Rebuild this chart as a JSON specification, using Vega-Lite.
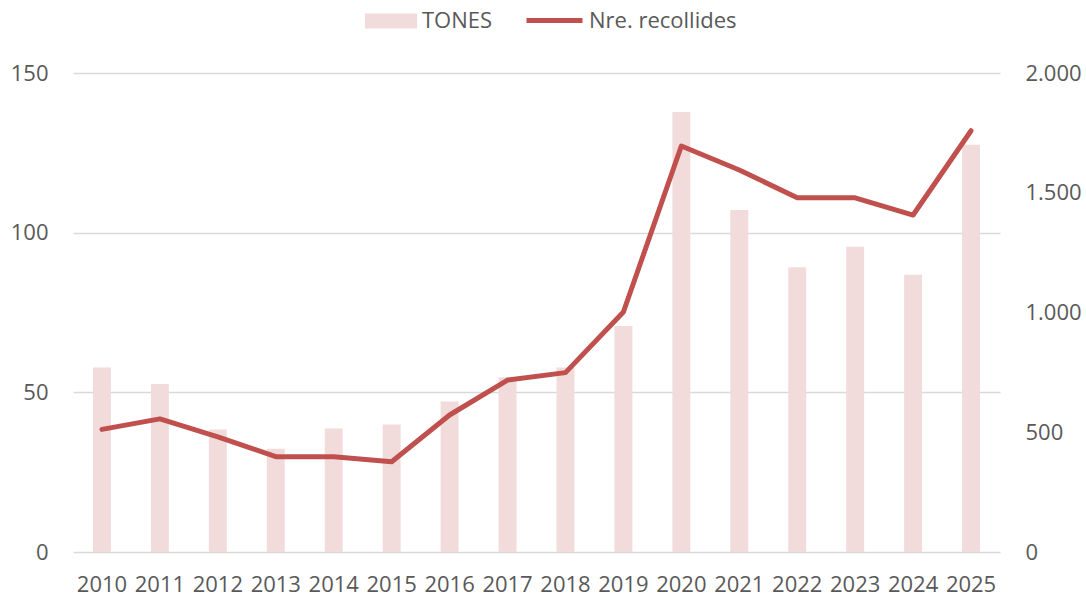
{
  "$schema": "https://vega.github.io/schema/vega-lite/v6.json",
  "width": 927,
  "height": 479,
  "autosize": {"type": "none"},
  "padding": {"left": 73, "top": 73, "right": 86, "bottom": 49},
  "background": "white",
  "data": {
    "values": [
      {"year": "2010", "tones": 57.8, "recollides": 512, "s1": "TONES", "s2": "Nre. recollides"},
      {"year": "2011", "tones": 52.6, "recollides": 556, "s1": "TONES", "s2": "Nre. recollides"},
      {"year": "2012", "tones": 38.4, "recollides": 481, "s1": "TONES", "s2": "Nre. recollides"},
      {"year": "2013", "tones": 32.3, "recollides": 398, "s1": "TONES", "s2": "Nre. recollides"},
      {"year": "2014", "tones": 38.7, "recollides": 398, "s1": "TONES", "s2": "Nre. recollides"},
      {"year": "2015", "tones": 39.9, "recollides": 377, "s1": "TONES", "s2": "Nre. recollides"},
      {"year": "2016", "tones": 47.1, "recollides": 572, "s1": "TONES", "s2": "Nre. recollides"},
      {"year": "2017", "tones": 54.7, "recollides": 718, "s1": "TONES", "s2": "Nre. recollides"},
      {"year": "2018", "tones": 57.8, "recollides": 749, "s1": "TONES", "s2": "Nre. recollides"},
      {"year": "2019", "tones": 70.8, "recollides": 1002, "s1": "TONES", "s2": "Nre. recollides"},
      {"year": "2020", "tones": 137.8, "recollides": 1695, "s1": "TONES", "s2": "Nre. recollides"},
      {"year": "2021", "tones": 107.1, "recollides": 1595, "s1": "TONES", "s2": "Nre. recollides"},
      {"year": "2022", "tones": 89.2, "recollides": 1479, "s1": "TONES", "s2": "Nre. recollides"},
      {"year": "2023", "tones": 95.6, "recollides": 1479, "s1": "TONES", "s2": "Nre. recollides"},
      {"year": "2024", "tones": 86.8, "recollides": 1407, "s1": "TONES", "s2": "Nre. recollides"},
      {"year": "2025", "tones": 127.5, "recollides": 1759, "s1": "TONES", "s2": "Nre. recollides"}
    ]
  },
  "encoding": {
    "x": {
      "field": "year",
      "type": "nominal",
      "scale": {"paddingInner": 0.69, "paddingOuter": 0.345},
      "axis": {
        "title": null,
        "labelAngle": 0,
        "domain": false,
        "ticks": false,
        "labelPadding": 22,
        "labelFontSize": 22,
        "labelColor": "#595959",
        "labelFont": "Open Sans"
      }
    }
  },
  "layer": [
    {
      "mark": {"type": "bar"},
      "encoding": {
        "y": {
          "field": "tones",
          "type": "quantitative",
          "scale": {"domain": [0, 150]},
          "axis": {
            "title": null,
            "values": [0, 50, 100, 150],
            "domain": false,
            "ticks": false,
            "grid": true,
            "gridColor": "#d9d9d9",
            "gridWidth": 1.5,
            "labelPadding": 25,
            "labelFontSize": 22,
            "labelColor": "#595959",
            "labelFont": "Open Sans"
          }
        },
        "fill": {
          "field": "s1",
          "type": "nominal",
          "scale": {"domain": ["TONES"], "range": ["#f2dcdb"]},
          "legend": {
            "title": null,
            "orient": "none",
            "legendX": 292,
            "legendY": -78,
            "symbolType": "M-1,-0.29H1V0.29H-1Z",
            "symbolSize": 2704,
            "symbolStrokeWidth": 0,
            "labelFontSize": 22,
            "labelColor": "#595959",
            "labelFont": "Open Sans",
            "labelOffset": 5,
            "padding": 0
          }
        }
      }
    },
    {
      "mark": {"type": "line", "strokeWidth": 5, "strokeCap": "round", "strokeJoin": "round"},
      "encoding": {
        "y": {
          "field": "recollides",
          "type": "quantitative",
          "scale": {"domain": [0, 2000]},
          "axis": {
            "title": null,
            "orient": "right",
            "values": [0, 500, 1000, 1500, 2000],
            "labelExpr": "replace(format(datum.value, ','), ',', '.')",
            "domain": false,
            "ticks": false,
            "grid": false,
            "labelPadding": 25,
            "labelFontSize": 22,
            "labelColor": "#595959",
            "labelFont": "Open Sans"
          }
        },
        "stroke": {
          "field": "s2",
          "type": "nominal",
          "scale": {"domain": ["Nre. recollides"], "range": ["#c0504d"]},
          "legend": {
            "title": null,
            "orient": "none",
            "legendX": 451,
            "legendY": -83,
            "symbolType": "stroke",
            "symbolSize": 3136,
            "symbolStrokeWidth": 5,
            "labelFontSize": 22,
            "labelColor": "#595959",
            "labelFont": "Open Sans",
            "labelOffset": 4,
            "padding": 0
          }
        }
      }
    }
  ],
  "resolve": {"scale": {"y": "independent", "fill": "independent", "stroke": "independent"}},
  "config": {"view": {"stroke": null}}
}
